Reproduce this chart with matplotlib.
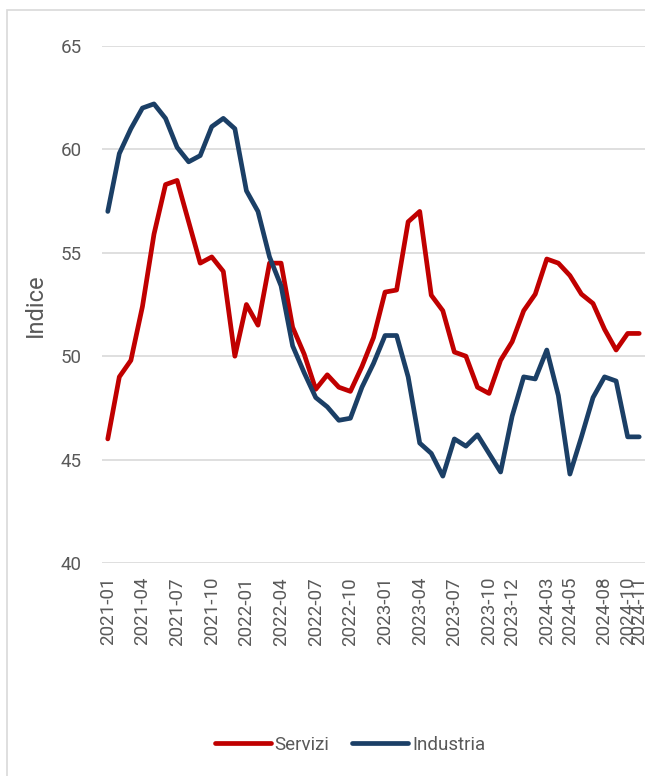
import matplotlib
matplotlib.use("Agg")
import matplotlib.pyplot as plt
from matplotlib.patches import Rectangle

months = [
    "2021-01", "2021-02", "2021-03", "2021-04", "2021-05", "2021-06",
    "2021-07", "2021-08", "2021-09", "2021-10", "2021-11", "2021-12",
    "2022-01", "2022-02", "2022-03", "2022-04", "2022-05", "2022-06",
    "2022-07", "2022-08", "2022-09", "2022-10", "2022-11", "2022-12",
    "2023-01", "2023-02", "2023-03", "2023-04", "2023-05", "2023-06",
    "2023-07", "2023-08", "2023-09", "2023-10", "2023-11", "2023-12",
    "2024-01", "2024-02", "2024-03", "2024-04", "2024-05", "2024-06",
    "2024-07", "2024-08", "2024-09", "2024-10", "2024-11",
]

servizi = [
    46.0, 49.0, 49.8, 52.4, 55.9, 58.3, 58.5, 56.5, 54.5, 54.8, 54.1, 50.0,
    52.5, 51.5, 54.5, 54.5, 51.4, 50.1, 48.4, 49.1, 48.5, 48.3, 49.5, 50.9,
    53.1, 53.2, 56.5, 57.0, 52.95, 52.2, 50.2, 50.0, 48.5, 48.2, 49.8, 50.7,
    52.2, 53.0, 54.7, 54.5, 53.9, 53.0, 52.55, 51.3, 50.3, 51.1, 51.1,
]

industria = [
    57.0, 59.8, 61.0, 62.0, 62.2, 61.5, 60.1, 59.4, 59.7, 61.1, 61.5, 61.0,
    58.0, 57.0, 54.8, 53.4, 50.5, 49.2, 48.0, 47.55, 46.9, 47.0, 48.5, 49.65,
    51.0, 51.0, 49.0, 45.8, 45.3, 44.2, 46.0, 45.65, 46.2, 45.3, 44.4, 47.1,
    49.0, 48.9, 50.3, 48.1, 44.3, 46.1, 48.0, 49.0, 48.8, 46.1, 46.1,
]

tick_labels = [
    "2021-01", "2021-04", "2021-07", "2021-10", "2022-01", "2022-04",
    "2022-07", "2022-10", "2023-01", "2023-04", "2023-07", "2023-10",
    "2023-12", "2024-03", "2024-05", "2024-08", "2024-10", "2024-11",
]

y_ticks = [40, 45, 50, 55, 60, 65]

series_names = ["Servizi", "Industria"]
colors = ["#C00000", "#1B3F66"]

plt.rcParams["font.family"] = ["Roboto", "DejaVu Sans"]
W, H = 645, 776
fig = plt.figure(figsize=(W / 100, H / 100), dpi=100)

# outer chart frame
fig.patches.append(Rectangle((7 / W, -0.2), 2.0, 1.2 - 10 / H,
                             transform=fig.transFigure, fill=False,
                             edgecolor="#d9d9d9", linewidth=1.2))

ax = fig.add_axes([102 / W, 1 - 563 / H, 1 - 102 / W, (563 - 46) / H])
x = list(range(len(months)))
lines = []
for name, vals, c in zip(series_names, [servizi, industria], colors):
    ln, = ax.plot(x, vals, color=c, linewidth=3.4, label=name,
                  solid_capstyle="round", solid_joinstyle="round")
    lines.append(ln)

ax.set_xlim(-0.5, len(months) - 0.5)
ax.set_ylim(40, 65)
ax.set_yticks(y_ticks)
ax.set_yticklabels([str(v) for v in y_ticks])
ax.set_xticks([months.index(t) for t in tick_labels])
ax.set_xticklabels(tick_labels, rotation=90)
ax.grid(axis="y", color="#d9d9d9", linewidth=1.2)
ax.set_axisbelow(True)
for s in ax.spines.values():
    s.set_visible(False)
ax.tick_params(axis="both", length=0, labelsize=13.5, colors="#595959")
ax.tick_params(axis="y", pad=14.5)
ax.tick_params(axis="x", pad=10)

fig.text(35 / W, 1 - 305 / H, "Indice", rotation=90, ha="center",
         va="center", fontsize=17, color="#595959")

fig.legend(handles=lines, loc="center", bbox_to_anchor=(350 / W, 1 - 745 / H),
           ncol=2, frameon=False, fontsize=13.5, handlelength=3.0,
           handletextpad=0.2, columnspacing=1.2, labelcolor="#595959")

fig.savefig("out.png", dpi=100)
